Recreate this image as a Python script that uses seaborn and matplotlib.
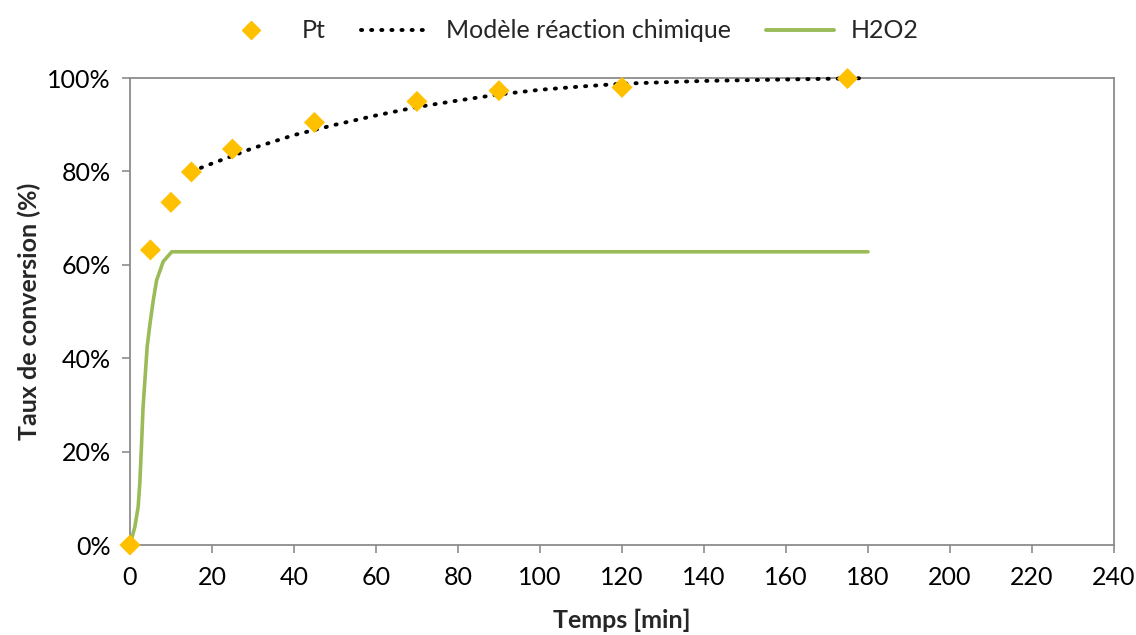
import numpy as np
import pandas as pd
import matplotlib
matplotlib.use("Agg")
import matplotlib.pyplot as plt
import seaborn as sns
from matplotlib.ticker import FuncFormatter, MultipleLocator
from matplotlib.lines import Line2D

# ---- data ----
pt_time = [0, 5, 10, 15, 25, 45, 70, 90, 120, 175]
pt_conv = [0, 63.2, 73.4, 79.9, 84.8, 90.5, 95.0, 97.3, 98.0, 99.9]

model_time = [15, 20, 30, 40, 50, 60, 70, 80, 90, 100, 110, 120, 140, 160, 180]
model_conv = [80.0, 81.7, 85.0, 87.8, 90.0, 92.0, 93.8, 95.2, 96.5, 97.5, 98.2, 98.8, 99.4, 99.7, 100.0]

h2o2_time = [0, 1.2, 2.0, 2.4, 2.8, 3.2, 3.7, 4.2, 4.9, 5.7, 6.5, 8.1, 10.2, 12.9, 180]
h2o2_conv = [0, 3.9, 8.2, 13.2, 21.0, 29.6, 36.0, 42.5, 47.5, 52.5, 56.7, 60.7, 62.8, 62.8, 62.8]

x_ticks = list(range(0, 241, 20))

# ---- style ----
sns.set_theme(style="white")
plt.rcParams['font.family'] = ['Lato', 'DejaVu Sans']

FS = 18
DOTS = (0, (0.3, 2.3))

fig = plt.figure(figsize=(11.36, 6.35), dpi=100)
ax = fig.add_axes([0.1144, 0.1417, 0.8662, 0.7353])

df_pt = pd.DataFrame({"t": pt_time, "c": pt_conv})
df_model = pd.DataFrame({"t": model_time, "c": model_conv})
df_h = pd.DataFrame({"t": h2o2_time, "c": h2o2_conv})

sns.lineplot(data=df_h, x="t", y="c", ax=ax, color="#9BBB59", linewidth=2.6,
             zorder=2, estimator=None, sort=False)
sns.lineplot(data=df_model, x="t", y="c", ax=ax, color="black", linewidth=2.8,
             linestyle=DOTS, dash_capstyle="round", zorder=3,
             estimator=None, sort=False)
sns.scatterplot(data=df_pt, x="t", y="c", ax=ax, marker="D", s=115,
                color="#FFC000", edgecolor="none", zorder=4)
for coll in ax.collections:
    coll.set_clip_on(False)
for ln in ax.lines:
    ln.set_clip_on(False)
    ln.set_solid_capstyle("round")
    ln.set_dash_capstyle("round")

ax.set_xlim(0, 240)
ax.set_ylim(0, 100)
ax.set_xticks(x_ticks)
ax.yaxis.set_major_locator(MultipleLocator(20))
ax.yaxis.set_major_formatter(FuncFormatter(lambda v, p: f"{int(round(v))}%"))

for s in ax.spines.values():
    s.set_color("#8C8C8C")
    s.set_linewidth(1.3)
    s.set_visible(True)

ax.tick_params(axis="both", which="major", direction="out", length=6, width=1.2,
               color="#8C8C8C", labelsize=FS, labelcolor="black",
               bottom=True, left=True)
ax.tick_params(axis="x", pad=9)
ax.tick_params(axis="y", pad=8)

ax.set_xlabel("Temps [min]", fontsize=FS, fontweight="bold", labelpad=14)
ax.set_ylabel("Taux de conversion (%)", fontsize=FS, fontweight="bold", labelpad=4)

handles = [
    Line2D([], [], marker="D", linestyle="none", color="#FFC000", markersize=9.5),
    Line2D([], [], color="black", linewidth=2.8, linestyle=DOTS,
           dash_capstyle="round"),
    Line2D([], [], color="#9BBB59", linewidth=2.8),
]
labels = ["Pt", "Modèle réaction chimique", "H2O2"]
fig.legend(handles, labels, loc="upper center", bbox_to_anchor=(0.5, 1.005),
           ncol=3, frameon=False, fontsize=FS, handlelength=2.7,
           columnspacing=1.4, handletextpad=0.7)

fig.savefig("out.png", dpi=100)
